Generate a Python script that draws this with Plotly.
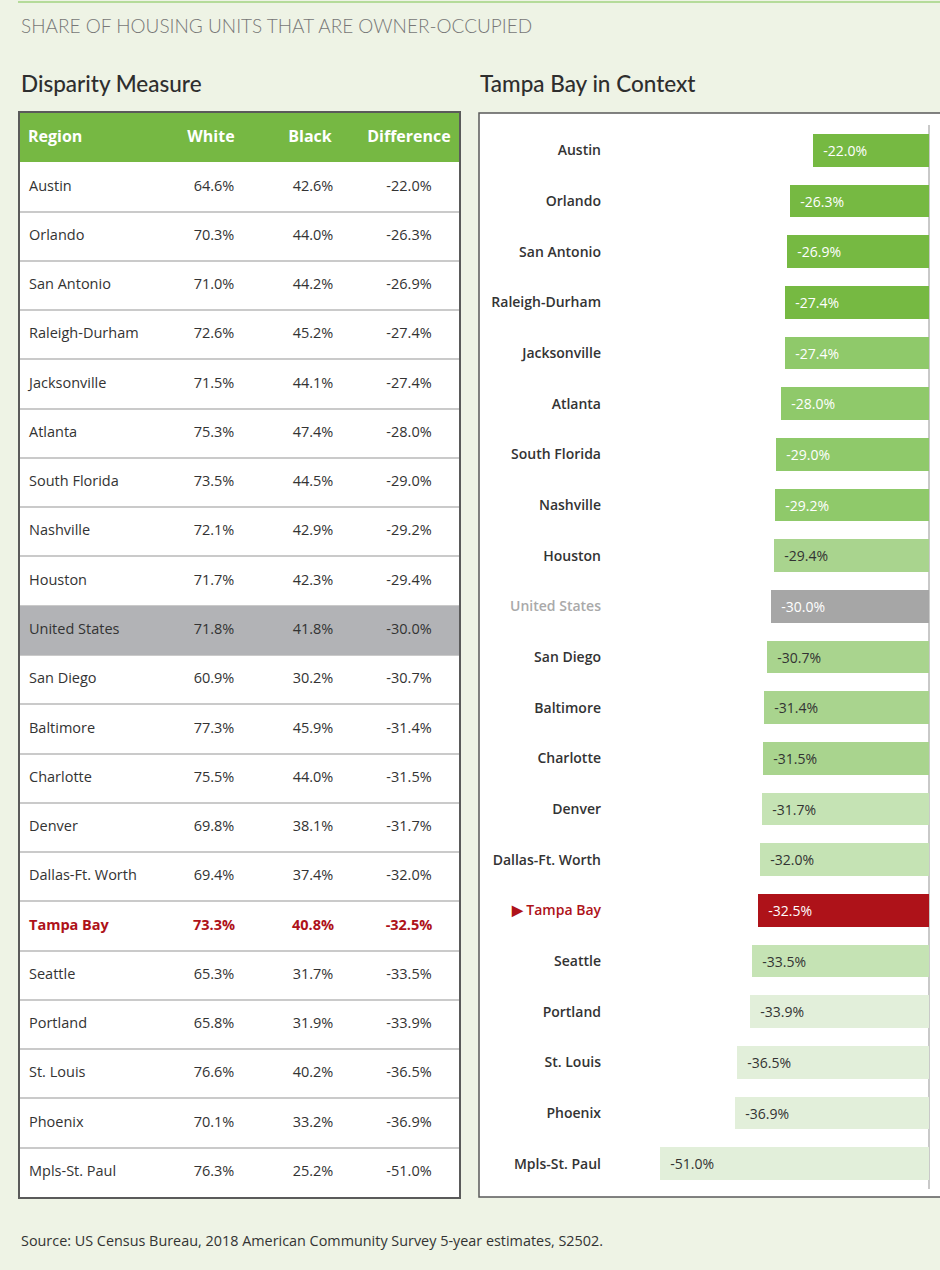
import plotly.graph_objects as go

# ---------------- data ----------------
regions = ["Austin", "Orlando", "San Antonio", "Raleigh-Durham", "Jacksonville", "Atlanta",
           "South Florida", "Nashville", "Houston", "United States", "San Diego", "Baltimore",
           "Charlotte", "Denver", "Dallas-Ft. Worth", "Tampa Bay", "Seattle", "Portland",
           "St. Louis", "Phoenix", "Mpls-St. Paul"]
white = [64.6, 70.3, 71.0, 72.6, 71.5, 75.3, 73.5, 72.1, 71.7, 71.8, 60.9, 77.3, 75.5, 69.8,
         69.4, 73.3, 65.3, 65.8, 76.6, 70.1, 76.3]
black = [42.6, 44.0, 44.2, 45.2, 44.1, 47.4, 44.5, 42.9, 42.3, 41.8, 30.2, 45.9, 44.0, 38.1,
         37.4, 40.8, 31.7, 31.9, 40.2, 33.2, 25.2]
difference = [-22.0, -26.3, -26.9, -27.4, -27.4, -28.0, -29.0, -29.2, -29.4, -30.0, -30.7,
              -31.4, -31.5, -31.7, -32.0, -32.5, -33.5, -33.9, -36.5, -36.9, -51.0]
headers = ["Region", "White", "Black", "Difference"]

US = "United States"
HOME = "Tampa Bay"

# ---------------- styles ----------------
W, H = 940, 1270
BG = "#EEF3E5"
GREEN = "#76B843"
RED = "#AE1219"
GRAY_ROW = "#B2B3B6"
TXT = "#333333"
FONT = "Open Sans"


def px_x(p):
    return p / W


def px_y(p):
    return 1 - p / H


def bar_color(i, r):
    if r == US:
        return "#A6A6A6"
    if r == HOME:
        return RED
    if i <= 3:
        return "#76B942"
    if i <= 7:
        return "#8FC96A"
    if i <= 12:
        return "#A9D48E"
    if i <= 16:
        return "#C5E3B4"
    return "#E2EFDA"


def bar_text_color(i, r):
    if r in (US, HOME) or i <= 7:
        return "white"
    return TXT


fig = go.Figure()

# ---------------- table (left) ----------------
n = len(regions)
row_y = list(range(1, n + 1))
col_x = {"Region": 9, "White": 194, "Black": 293, "Difference": 389}
hdr_x = {"Region": 8, "White": 191, "Black": 290, "Difference": 389}
TABLE_W = 439

# header fill and US row fill
fig.add_trace(go.Bar(x=[TABLE_W], y=[0], base=0, orientation="h", width=1,
                     marker=dict(color=GREEN, line_width=0), xaxis="x2", yaxis="y2",
                     hoverinfo="skip", showlegend=False))
us_i = regions.index(US)
fig.add_trace(go.Bar(x=[TABLE_W], y=[row_y[us_i]], base=0, orientation="h", width=1,
                     marker=dict(color=GRAY_ROW, line_width=0), xaxis="x2", yaxis="y2",
                     hoverinfo="skip", showlegend=False))

# header text
for h in headers:
    fig.add_trace(go.Scatter(x=[hdr_x[h]], y=[0], mode="text", text=[f"<b>{h}</b>"],
                             textposition="middle right" if h == "Region" else "middle center",
                             textfont=dict(family=FONT, size=16, color="white"),
                             xaxis="x2", yaxis="y2", hoverinfo="skip", showlegend=False))


def fmt_cell(r, s):
    return f"<b>{s}</b>" if r == HOME else s


cell_colors = [RED if r == HOME else TXT for r in regions]
cols = {
    "Region": [fmt_cell(r, r) for r in regions],
    "White": [fmt_cell(r, f"{v:.1f}%") for r, v in zip(regions, white)],
    "Black": [fmt_cell(r, f"{v:.1f}%") for r, v in zip(regions, black)],
    "Difference": [fmt_cell(r, f"{v:.1f}%") for r, v in zip(regions, difference)],
}
for h in headers:
    fig.add_trace(go.Scatter(x=[col_x[h]] * n, y=row_y, mode="text", text=cols[h],
                             textposition="middle right" if h == "Region" else "middle center",
                             textfont=dict(family=FONT, size=14.5, color=cell_colors),
                             xaxis="x2", yaxis="y2", hoverinfo="skip", showlegend=False))

# ---------------- bars (right) ----------------
bar_cols = [bar_color(i, r) for i, r in enumerate(regions)]
bar_txt_cols = [bar_text_color(i, r) for i, r in enumerate(regions)]
fig.add_trace(go.Bar(
    x=difference, y=regions, orientation="h", width=0.65,
    marker=dict(color=bar_cols, line_width=0),
    text=["\u00a0\u00a0" + f"{v:.1f}%" for v in difference],
    textposition="inside", insidetextanchor="end", constraintext="none",
    textfont=dict(family=FONT, size=14, color=bar_txt_cols),
    hoverinfo="skip", showlegend=False, xaxis="x", yaxis="y"))


def tick_label(r):
    if r == US:
        return f"<span style='color:#A9A9A9'>{r}</span>"
    if r == HOME:
        return f"<span style='color:{RED}'>\u25B6 {r}</span>"
    return r


fig.update_layout(
    width=W, height=H,
    margin=dict(l=0, r=0, t=0, b=0),
    paper_bgcolor=BG, plot_bgcolor="white",
    bargap=0,
    xaxis=dict(domain=[px_x(612), px_x(929)], range=[-60.15, 0], fixedrange=True,
               anchor="y", showgrid=False, showticklabels=False, ticks="",
               zeroline=True, zerolinecolor="#C9C9C9", zerolinewidth=2),
    yaxis=dict(domain=[px_y(1189), px_y(125)], autorange="reversed", type="category",
               anchor="x", categoryorder="array", categoryarray=regions,
               tickmode="array", tickvals=regions, ticktext=[tick_label(r) for r in regions],
               ticks="", ticklabelstandoff=10, showgrid=False, showline=False,
               tickfont=dict(family=FONT, size=14, color=TXT, weight=600)),
    xaxis2=dict(domain=[px_x(20), px_x(459)], range=[0, TABLE_W], anchor="y2",
                showgrid=False, zeroline=False, showticklabels=False, ticks="",
                showline=True, mirror=True, linecolor="#5A5A5A", linewidth=1.5),
    yaxis2=dict(domain=[px_y(1197), px_y(113)], range=[n + 0.5, -0.5], anchor="x2",
                showgrid=True, gridcolor="#CACACA", gridwidth=1.5, zeroline=False,
                tickmode="array", tickvals=[i + 0.5 for i in range(1, n)],
                showticklabels=False, ticks="",
                showline=True, mirror=True, linecolor="#5A5A5A", linewidth=1.5),
    shapes=[
        dict(type="line", xref="paper", yref="paper", x0=px_x(18), x1=1.0,
             y0=px_y(2), y1=px_y(2), line=dict(color="#B5DB9A", width=2)),
        dict(type="rect", xref="paper", yref="paper", x0=px_x(479), x1=px_x(960),
             y0=px_y(1197), y1=px_y(113), fillcolor="white",
             line=dict(color="#5A5A5A", width=1.5), layer="below"),
    ],
    annotations=[
        dict(text="SHARE OF HOUSING UNITS THAT ARE OWNER-OCCUPIED", xref="paper", yref="paper",
             x=px_x(19), y=px_y(26), xanchor="left", yanchor="middle", showarrow=False,
             font=dict(family="Lato", size=19, color="#777777", weight=300)),
        dict(text="Disparity Measure", xref="paper", yref="paper",
             x=px_x(19), y=px_y(83), xanchor="left", yanchor="middle", showarrow=False,
             font=dict(family="Lato", size=22.5, color="#2E2E2E", weight=500)),
        dict(text="Tampa Bay in Context", xref="paper", yref="paper",
             x=px_x(478), y=px_y(83), xanchor="left", yanchor="middle", showarrow=False,
             font=dict(family="Lato", size=22.5, color="#2E2E2E", weight=500)),
        dict(text="Source: US Census Bureau, 2018 American Community Survey 5-year estimates, S2502.",
             xref="paper", yref="paper", x=px_x(19), y=px_y(1240), xanchor="left",
             yanchor="middle", showarrow=False, font=dict(family=FONT, size=14.4, color=TXT)),
    ],
)

fig.write_html("out.html",
               config={"displayModeBar": False},
               post_script="document.body.style.margin='0';"
                           "document.body.style.background='" + BG + "';")
